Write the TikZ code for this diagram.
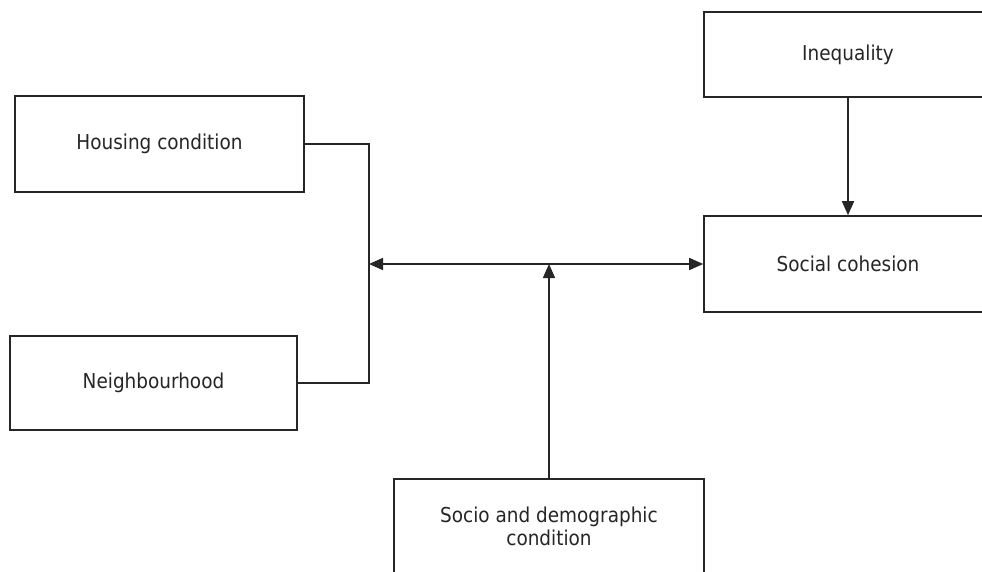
\documentclass[tikz,border=0pt]{standalone}
\usepackage{fontspec}
\setmainfont{DejaVu Sans Condensed}
\usetikzlibrary{arrows.meta}
\begin{document}
\begin{tikzpicture}[x=1pt,y=-1pt,
  box/.style={draw=black!85,line width=1.6pt,fill=white,inner sep=0pt,align=center,
    font=\fontsize{20.5}{23}\selectfont,text=black!85},
  conn/.style={draw=black!85,line width=1.6pt},
  tip/.style={-{Triangle[length=14pt,width=12pt]}}]
\useasboundingbox (0,0) rectangle (982,572);
\node[box,minimum width=288pt,minimum height=85pt] (ineq) at (848,54.5) {Inequality};
\node[box,minimum width=288pt,minimum height=96pt] (soc) at (848,264) {Social cohesion};
\node[box,minimum width=289pt,minimum height=96pt] (house) at (159.5,144) {Housing condition};
\node[box,minimum width=287pt,minimum height=94pt] (neigh) at (153.5,383) {Neighbourhood};
\node[box,minimum width=310pt,minimum height=95pt] (socio) at (549,526.5) {Socio and demographic\\condition};
\coordinate (j) at (369,264);
\coordinate (m) at (549,264);
\draw[conn] (house.east) -| (j) |- (neigh.east);
\draw[conn,{Triangle[length=14pt,width=12pt]}-{Triangle[length=14pt,width=12pt]}] (j) -- (soc.west);
\draw[conn,tip] (socio.north) -- (m);
\draw[conn,tip] (ineq.south) -- (soc.north);
\end{tikzpicture}
\end{document}
